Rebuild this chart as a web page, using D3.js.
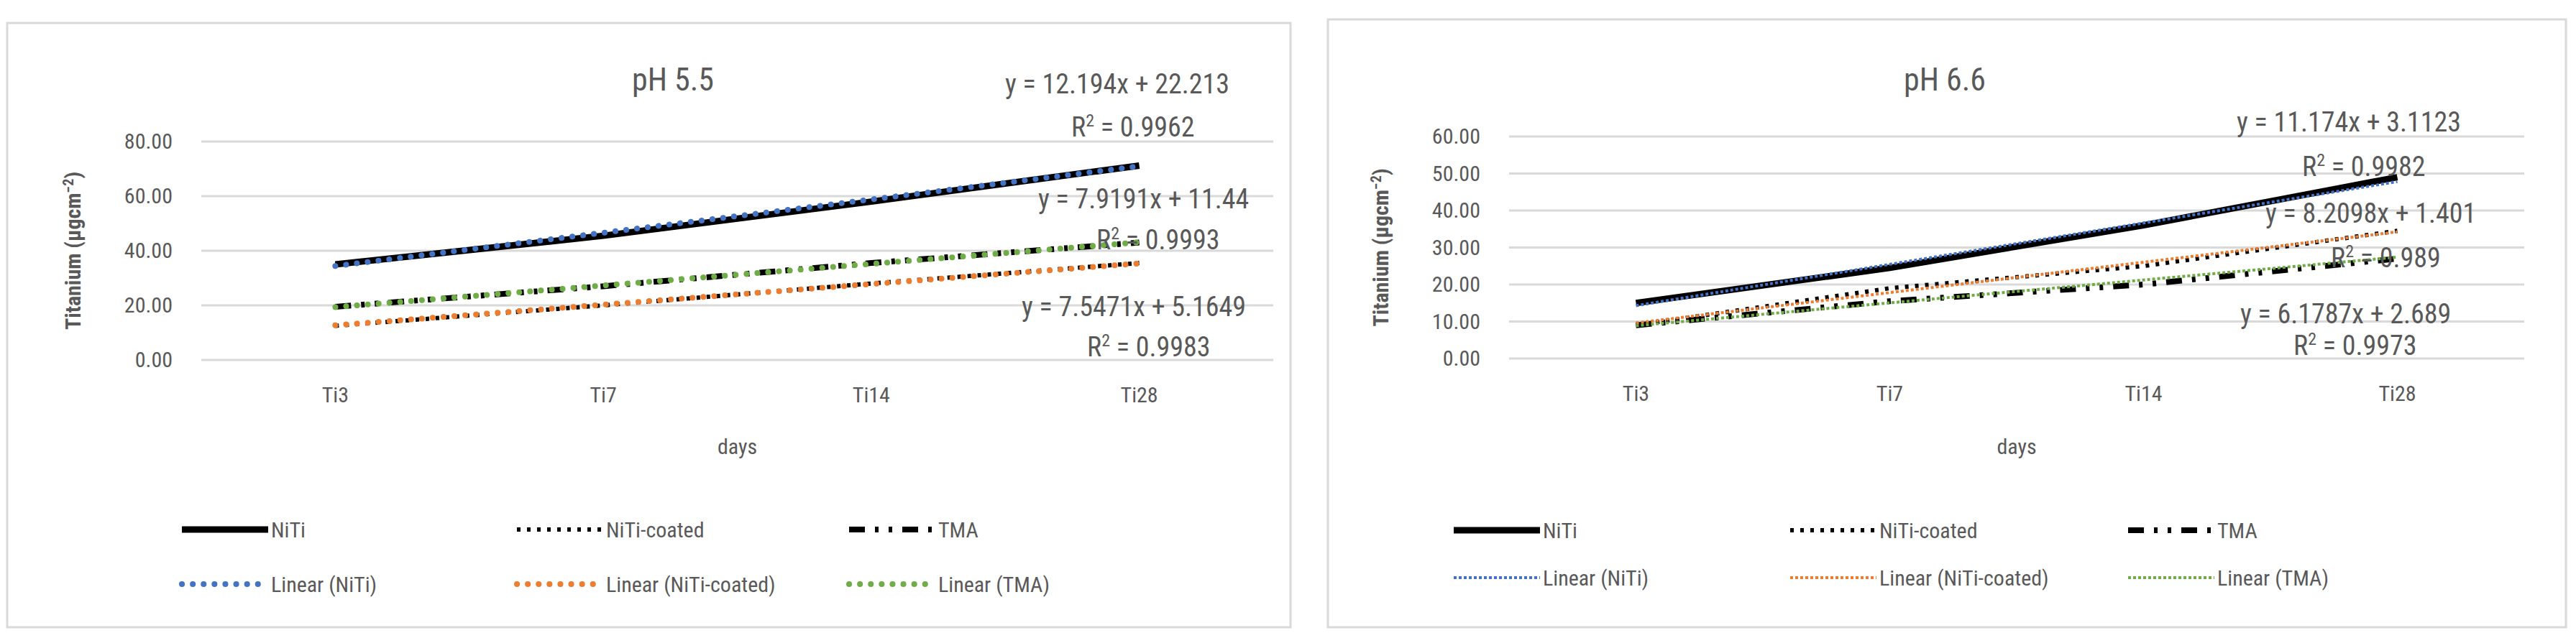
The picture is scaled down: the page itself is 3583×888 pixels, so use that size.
<!DOCTYPE html>
<html><head><meta charset="utf-8">
<script src="https://cdn.jsdelivr.net/npm/d3@7"></script>
<style>
body{margin:0;background:#fff;}
text{font-family:"Liberation Sans Narrow","Roboto Condensed","Liberation Sans",sans-serif;fill:#595959;}
</style></head>
<body><svg id="app" width="3583" height="888"></svg>
<script>
// 数据
const categories = ["Ti3", "Ti7", "Ti14", "Ti28"];
const seriesNames = ["NiTi", "NiTi-coated", "TMA"];
const ph55NiTi = [35.0, 45.5, 58.0, 71.2];
const ph55Coated = [12.5, 20.0, 28.0, 35.5];
const ph55TMA = [19.5, 27.0, 35.5, 43.0];
const ph66NiTi = [15.0, 24.5, 36.0, 49.0];
const ph66Coated = [9.0, 19.0, 25.0, 34.5];
const ph66TMA = [9.0, 15.5, 20.0, 27.0];
// 趋势线系数 (图中显示的方程)
const ph55Slope = [12.194, 7.5471, 7.9191];
const ph55Intercept = [22.213, 5.1649, 11.44];
const ph55R2 = ["0.9962", "0.9983", "0.9993"];
const ph66Slope = [11.174, 8.2098, 6.1787];
const ph66Intercept = [3.1123, 1.401, 2.689];
const ph66R2 = ["0.9982", "0.989", "0.9973"];
const ticks55 = [0, 20, 40, 60, 80];
const ticks66 = [0, 10, 20, 30, 40, 50, 60];

const COLORS = ["#4472C4", "#ED7D31", "#70AD47"];
const svg = d3.select("#app");

function panel(cfg) {
  const g = svg.append("g");
  // 外框
  g.append("rect").attr("x", cfg.box[0]).attr("y", cfg.box[1])
    .attr("width", cfg.box[2]).attr("height", cfg.box[3])
    .attr("fill", "none").attr("stroke", "#d9d9d9").attr("stroke-width", 3);

  const x = d3.scaleBand().domain(categories).range([cfg.left, cfg.right]);
  const y = d3.scaleLinear().domain([0, cfg.max]).range([cfg.bottom, cfg.top]);

  // 网格线
  g.selectAll(".grid").data(cfg.ticks).enter().append("line")
    .attr("x1", cfg.left).attr("x2", cfg.right)
    .attr("y1", d => y(d)).attr("y2", d => y(d))
    .attr("stroke", "#d9d9d9").attr("stroke-width", 3);

  // 坐标轴
  const ay = g.append("g").attr("transform", `translate(${cfg.left},0)`)
    .call(d3.axisLeft(y).tickValues(cfg.ticks).tickFormat(d3.format(".2f")).tickSize(0).tickPadding(40));
  ay.select(".domain").remove();
  ay.selectAll("text").attr("font-size", 30).style("fill", "#595959")
    .attr("font-family", "Liberation Sans Narrow, sans-serif");

  const ax = g.append("g").attr("transform", `translate(0,${cfg.bottom})`)
    .call(d3.axisBottom(x).tickSize(0).tickPadding(38));
  ax.select(".domain").remove();
  ax.selectAll("text").attr("font-size", 30).style("fill", "#595959")
    .attr("font-family", "Liberation Sans Narrow, sans-serif");

  // 标题
  g.append("text").attr("x", cfg.titleX).attr("y", 126).attr("text-anchor", "middle")
    .attr("font-size", 44).text(cfg.title);
  g.append("text").attr("x", (cfg.left + cfg.right) / 2).attr("y", 632)
    .attr("text-anchor", "middle").attr("font-size", 30).text("days");
  const yt = g.append("text").attr("transform", `translate(${cfg.left - 168},${(cfg.top + cfg.bottom) / 2}) rotate(-90)`)
    .attr("text-anchor", "middle").attr("font-size", 30).attr("font-weight", "bold")
    .attr("font-family", "Liberation Sans, sans-serif");
  yt.append("tspan").text("Titanium (µgcm");
  yt.append("tspan").attr("dy", -10).attr("font-size", 20).text("−2");
  yt.append("tspan").attr("dy", 10).text(")");

  const cx = d => x(d) + x.bandwidth() / 2;
  const line = d3.line().x((d, i) => cx(categories[i])).y(d => y(d));

  // 数据线
  const styles = [
    { w: 9, dash: null },
    { w: 6, dash: "5,9" },
    { w: 8, dash: "22,14,5,14,5,14" }
  ];
  cfg.data.forEach((vals, k) => {
    g.append("path").attr("d", line(vals)).attr("fill", "none")
      .attr("stroke", "#000").attr("stroke-width", styles[k].w)
      .attr("stroke-dasharray", styles[k].dash);
  });

  // 趋势线
  cfg.slope.forEach((s, k) => {
    const pts = categories.map((c, i) => s * (i + 1) + cfg.intercept[k]);
    g.append("path").attr("d", line(pts)).attr("fill", "none")
      .attr("stroke", COLORS[k]).attr("stroke-width", cfg.trendW)
      .attr("stroke-dasharray", cfg.trendDash).attr("stroke-linecap", cfg.trendCap);
  });

  // 方程文本
  cfg.eq.forEach((e, k) => {
    g.append("text").attr("x", e[0]).attr("y", e[1]).attr("font-size", 38)
      .text(`y = ${cfg.slope[k]}x + ${cfg.intercept[k]}`);
    const r = g.append("text").attr("x", e[2]).attr("y", e[3]).attr("font-size", 38);
    r.append("tspan").text("R");
    r.append("tspan").attr("dy", -14).attr("font-size", 24).text("2");
    r.append("tspan").attr("dy", 14).text(` = ${cfg.r2[k]}`);
  });

  // 图例
  const lg = g.append("g");
  const items = [];
  seriesNames.forEach((n, k) => items.push({ name: n, row: 0, col: k, type: "data", k }));
  seriesNames.forEach((n, k) => items.push({ name: `Linear (${n})`, row: 1, col: k, type: "trend", k }));
  items.forEach(it => {
    const x0 = cfg.legX[it.col], yy = cfg.legY[it.row];
    const st = styles[it.k];
    lg.append("line").attr("x1", x0).attr("x2", x0 + 120).attr("y1", yy).attr("y2", yy)
      .attr("stroke", it.type === "data" ? "#000" : COLORS[it.k])
      .attr("stroke-width", it.type === "data" ? st.w : cfg.trendW)
      .attr("stroke-dasharray", it.type === "data" ? st.dash : cfg.trendDash)
      .attr("stroke-linecap", it.type === "data" ? "butt" : cfg.trendCap);
    lg.append("text").attr("x", x0 + 124).attr("y", yy + 11).attr("font-size", 30).text(it.name);
  });
}

panel({
  box: [10, 32, 1785, 841], left: 280, right: 1771, top: 197, bottom: 501, max: 80, ticks: ticks55,
  title: "pH 5.5", titleX: 936, data: [ph55NiTi, ph55Coated, ph55TMA],
  slope: ph55Slope, intercept: ph55Intercept, r2: ph55R2,
  trendW: 8, trendDash: "0.1,15", trendCap: "round",
  eq: [[1398, 130, 1490, 190], [1421, 440, 1512, 496], [1444, 290, 1525, 347]],
  legX: [253, 719, 1181], legY: [737, 813]
});
panel({
  box: [1847, 27, 1722, 846], left: 2099, right: 3511, top: 190, bottom: 499, max: 60, ticks: ticks66,
  title: "pH 6.6", titleX: 2705, data: [ph66NiTi, ph66Coated, ph66TMA],
  slope: ph66Slope, intercept: ph66Intercept, r2: ph66R2,
  trendW: 4, trendDash: "4,3", trendCap: "butt",
  eq: [[3111, 183, 3202, 245], [3151, 310, 3242, 372], [3116, 450, 3190, 494]],
  legX: [2022, 2490, 2960], legY: [738, 804]
});
</script></body></html>
